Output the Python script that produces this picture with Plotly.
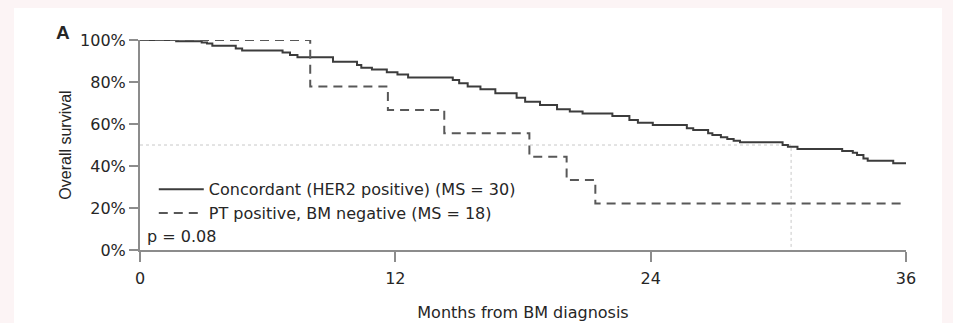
import plotly.graph_objects as go

# Concordant (HER2 positive) Kaplan-Meier estimates (months, survival %)
conc_time = [0, 1.7, 2.9, 3.15, 3.4, 4.5, 4.8, 6.7, 7.05, 7.4, 9.07, 10.2, 10.4, 10.9,
             11.6, 12.1, 12.6, 14.7, 15.0, 15.4, 16.0, 16.7, 17.7, 18.1, 18.8, 19.6,
             20.2, 20.8, 22.2, 23.0, 23.4, 24.1, 25.7, 26.0, 26.7, 26.9, 27.3, 27.6,
             27.9, 28.2, 30.2, 30.45, 30.9, 33.0, 33.5, 33.7, 34.0, 34.2, 35.4, 36.0]
conc_surv = [100, 99.4, 98.8, 98.3, 97.3, 95.9, 95.0, 94.0, 92.9, 91.8, 89.7, 88.1, 86.8, 86.0,
             84.6, 83.6, 82.2, 81.0, 79.4, 77.8, 76.5, 74.6, 72.5, 70.6, 69.0, 67.0,
             65.9, 65.0, 63.8, 61.9, 60.6, 59.5, 58.0, 57.1, 55.6, 54.8, 53.7, 52.9,
             52.0, 51.3, 50.0, 49.2, 48.1, 47.1, 46.3, 45.2, 43.6, 42.5, 41.3, 41.3]

# PT positive, BM negative
disc_time = [0, 8.0, 11.65, 14.3, 18.3, 20.05, 21.4, 36.0]
disc_surv = [100, 77.8, 66.7, 55.6, 44.4, 33.3, 22.2, 22.2]

# median reference line
median_time = 30.6
median_level = 50

y_ticks = [0, 20, 40, 60, 80, 100]
x_ticks = [0, 12, 24, 36]

FONT = "DejaVu Sans, Verdana, sans-serif"
FONT2 = "Liberation Sans, Arial, Helvetica, sans-serif"
TXT = "#262626"

fig = go.Figure()

fig.add_trace(go.Scatter(
    x=[0, median_time, median_time], y=[median_level, median_level, 0],
    mode="lines", line=dict(color="#c8c8c8", width=1, dash="dot"),
    showlegend=False, hoverinfo="skip", cliponaxis=False))

fig.add_trace(go.Scatter(
    x=conc_time, y=conc_surv, mode="lines", line_shape="hv",
    line=dict(color="#3c3c3c", width=2),
    name="Concordant (HER2 positive) (MS = 30)", cliponaxis=False))

fig.add_trace(go.Scatter(
    x=disc_time, y=disc_surv, mode="lines", line_shape="hv",
    line=dict(color="#585858", width=2, dash="9px,6px"),
    name="PT positive, BM negative (MS = 18)", cliponaxis=False))

fig.update_layout(
    width=953, height=323,
    margin=dict(l=140, r=47, t=40, b=73),
    paper_bgcolor="#fcf4f5", plot_bgcolor="rgba(0,0,0,0)",
    font=dict(family=FONT, size=16, color=TXT),
    showlegend=True,
    legend=dict(x=0.018, y=0.37, xanchor="left", yanchor="top",
                bgcolor="rgba(0,0,0,0)", font=dict(size=16, color=TXT),
                tracegroupgap=0, itemwidth=45),
    shapes=[dict(type="rect", xref="paper", yref="paper", layer="below",
                 x0=-126/766, x1=(942-140)/766, y0=-0.5, y1=(40-8)/210 + 1.0,
                 fillcolor="white", line=dict(width=0))],
    annotations=[
        dict(text="p = 0.08", x=0.006, y=0.008, xref="paper", yref="paper",
             xanchor="left", yanchor="bottom", showarrow=False,
             font=dict(size=16, color=TXT)),
        dict(text="<b>A</b>", x=-86/766, y=1.035, xref="paper", yref="paper",
             xanchor="left", yanchor="middle", showarrow=False,
             font=dict(family=FONT2, size=19, color=TXT)),
    ],
)

fig.update_xaxes(
    range=[0, 36], tickvals=x_ticks, ticktext=[str(v) for v in x_ticks],
    showgrid=False, zeroline=False, showline=True, linecolor="#8c8c8c", linewidth=2,
    ticks="outside", ticklen=10, tickwidth=1.5, tickcolor="#8c8c8c",
    tickfont=dict(size=16, color=TXT), automargin=False, ticklabelstandoff=3,
    title=dict(text="Months from BM diagnosis", standoff=20, font=dict(size=16, color=TXT)))

fig.update_yaxes(
    range=[0, 100], tickvals=y_ticks, ticktext=[f"{v}%" for v in y_ticks],
    showgrid=False, zeroline=False, showline=True, linecolor="#8c8c8c", linewidth=2,
    ticks="outside", ticklen=9, tickwidth=1.5, tickcolor="#8c8c8c",
    tickfont=dict(size=16, color=TXT), automargin=False,
    title=dict(text="Overall survival", standoff=4, font=dict(family=FONT2, size=16, color=TXT)))

fig.write_html("out.html")
